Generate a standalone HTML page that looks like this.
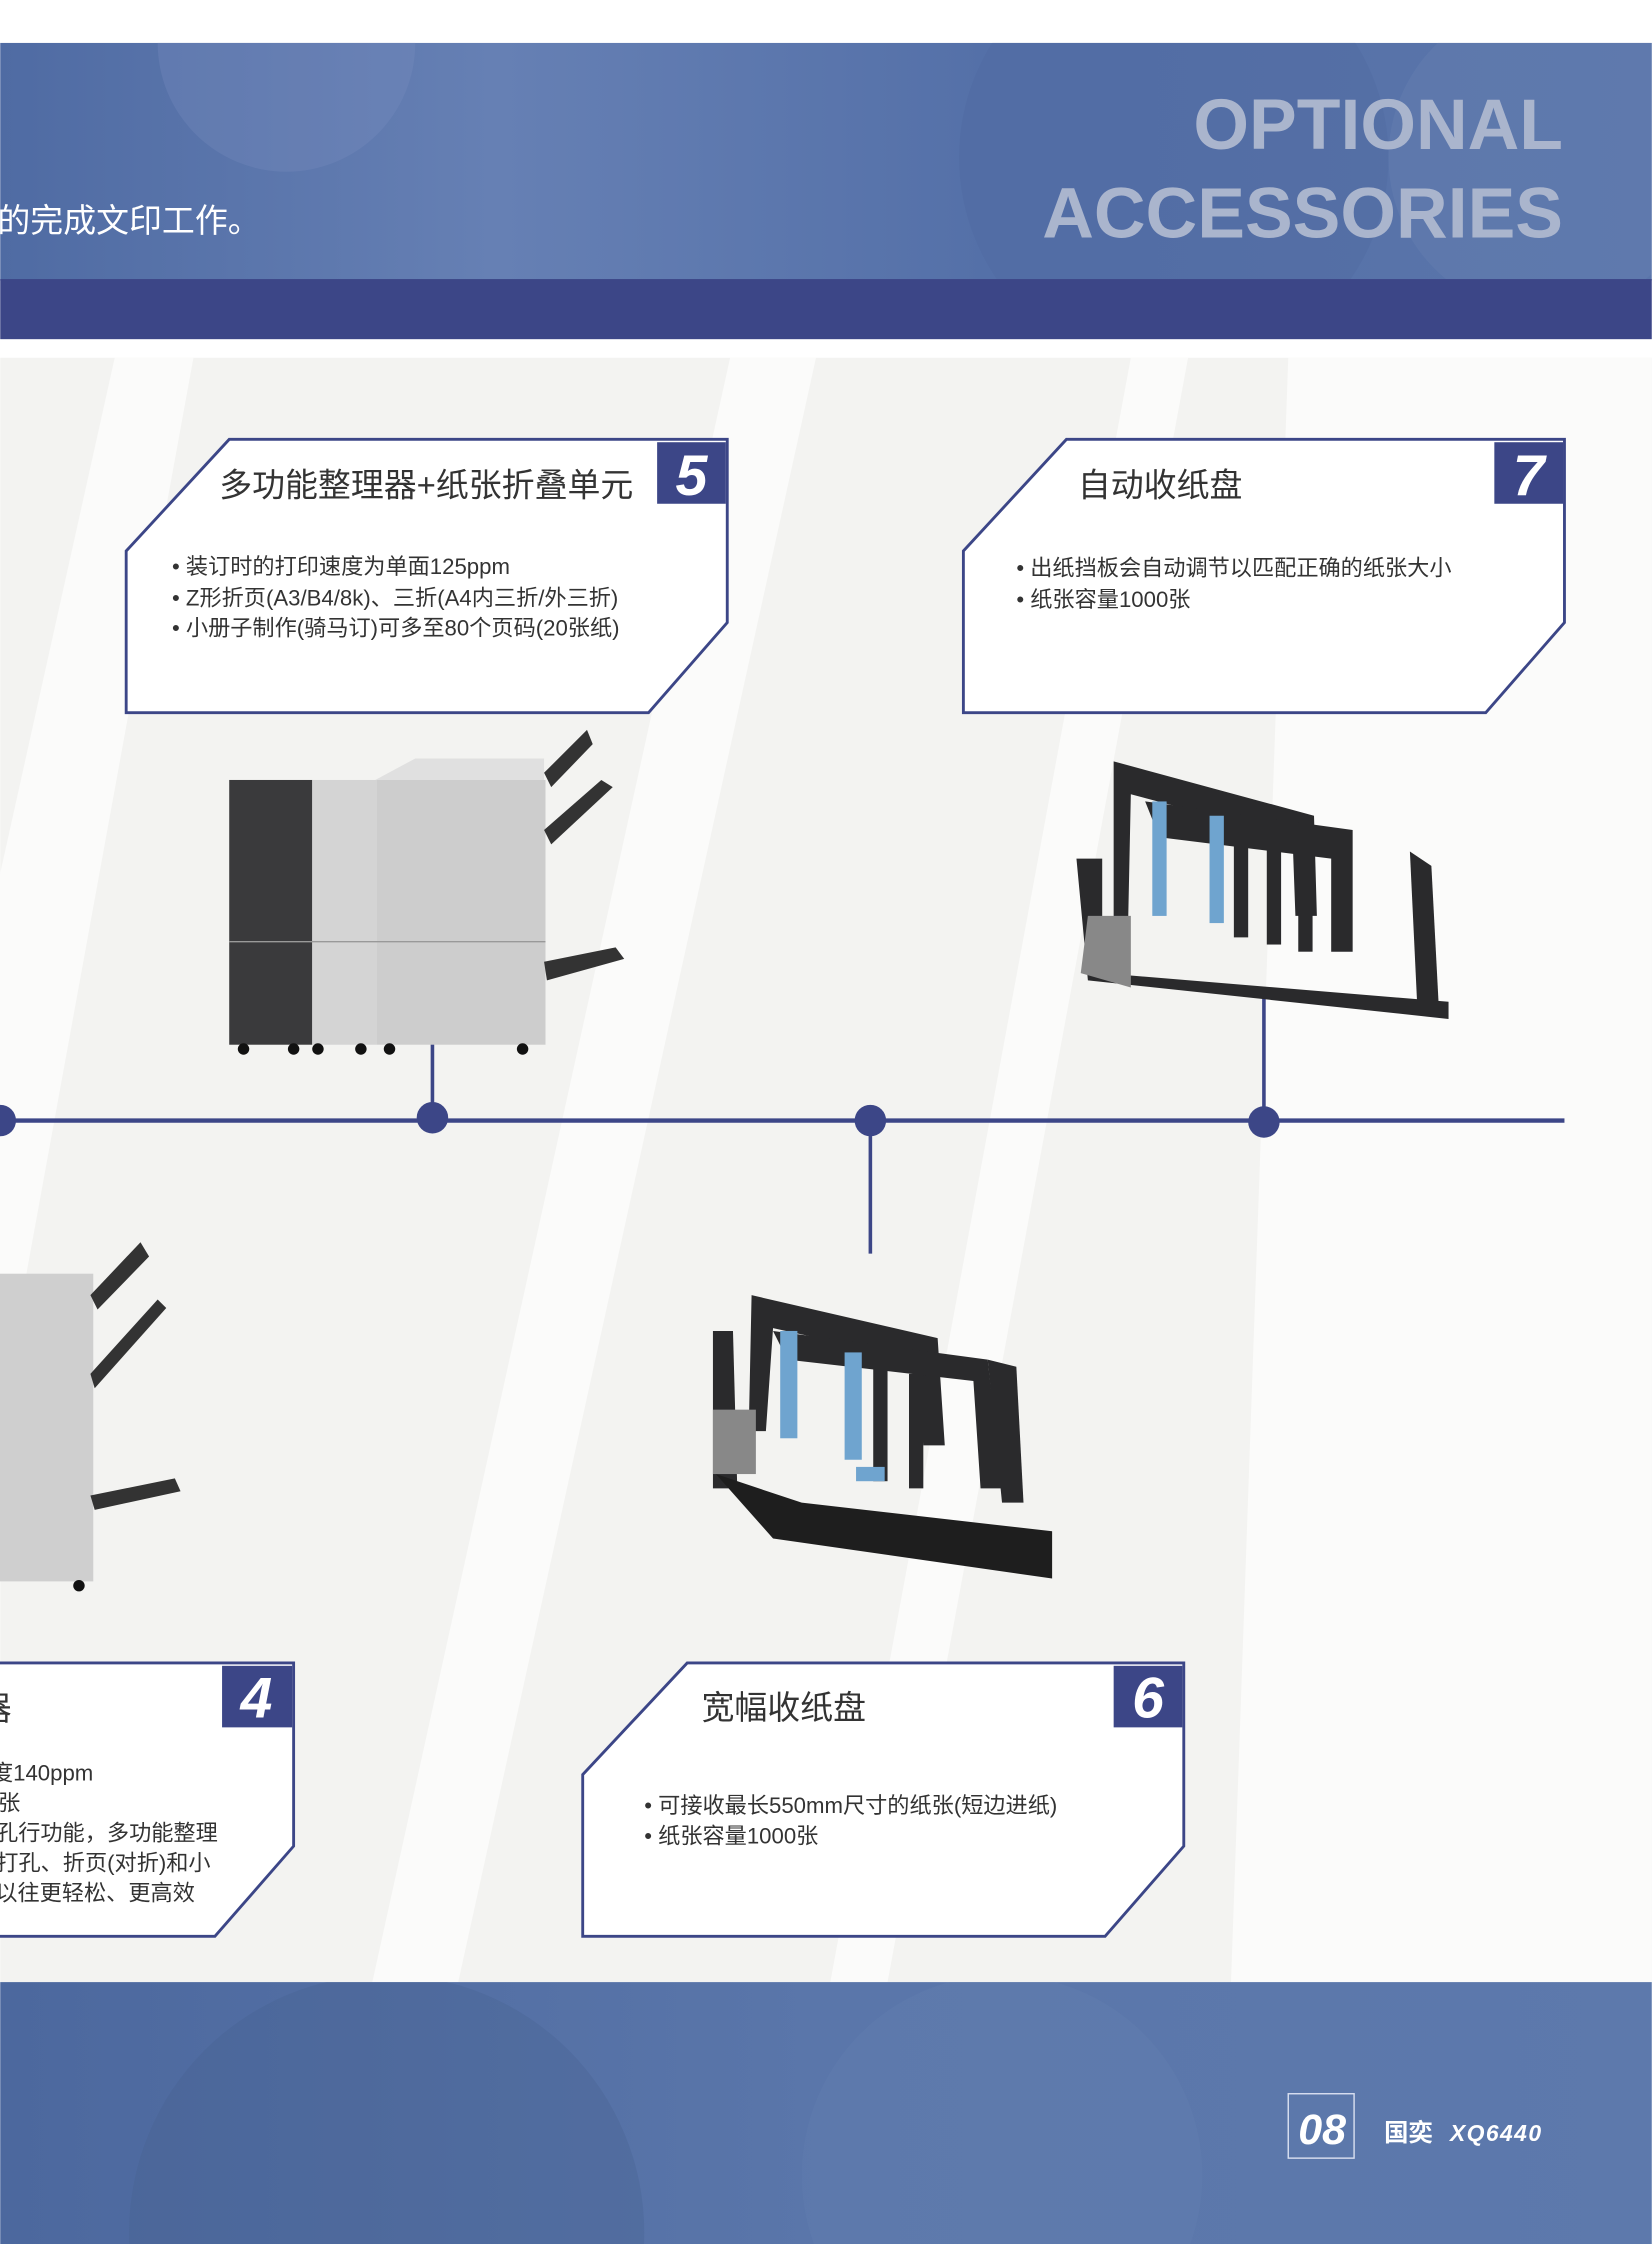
<!DOCTYPE html>
<html><head><meta charset="utf-8"><style>
html,body{margin:0;padding:0;background:#fff;overflow:hidden;width:1652px;height:2244px}
svg{display:block}
text{font-family:"Liberation Sans","Noto Sans CJK SC",sans-serif}
</style></head><body>
<svg width="1652" height="2244" viewBox="0 0 1154 1568" xmlns="http://www.w3.org/2000/svg">
<defs>
<linearGradient id="hd" x1="0" y1="0" x2="1" y2="0">
<stop offset="0" stop-color="#4f6ba3"/><stop offset="0.3" stop-color="#6680b4"/><stop offset="0.6" stop-color="#5470a8"/><stop offset="1" stop-color="#5a75aa"/></linearGradient>
<linearGradient id="ft" x1="0" y1="0" x2="1" y2="0">
<stop offset="0" stop-color="#4c689e"/><stop offset="0.5" stop-color="#5a76aa"/><stop offset="1" stop-color="#5d79ac"/></linearGradient>
<clipPath id="ch"><rect x="0" y="30" width="1154" height="165"/></clipPath>
<clipPath id="cf"><rect x="0" y="1385" width="1154" height="183"/></clipPath>
</defs>
<rect width="1154" height="1568" fill="#fff"/>
<!-- header -->
<rect x="0" y="30" width="1154" height="166" fill="url(#hd)"/>
<g clip-path="url(#ch)">
<circle cx="200" cy="30" r="90" fill="#7a90bf" opacity="0.3"/>
<circle cx="820" cy="110" r="150" fill="#4a639a" opacity="0.25"/>
<circle cx="1080" cy="110" r="110" fill="#7088b8" opacity="0.25"/>
</g>
<text x="1092" y="104" font-size="50" font-weight="bold" fill="#aab5cd" text-anchor="end">OPTIONAL</text>
<text x="1092" y="166" font-size="50" font-weight="bold" fill="#aab5cd" text-anchor="end">ACCESSORIES</text>
<text x="-2" y="162" font-size="23" fill="#fff">的完成文印工作。</text>
<rect x="0" y="195" width="1154" height="42" fill="#3c4687"/>
<!-- grey body -->
<rect x="0" y="250" width="1154" height="1135" fill="#f3f3f1"/>
<polygon points="80,250 135,250 -20,1100 -20,700" fill="#fbfbfa"/>
<polygon points="510,250 570,250 320,1385 260,1385" fill="#fbfbfa"/>
<polygon points="790,250 830,250 620,1385 580,1385" fill="#fbfbfa"/>
<polygon points="900,250 1154,250 1154,1385 860,1385" fill="#fbfbfa"/>
<!-- timeline -->
<line x1="0" y1="783" x2="1093" y2="783" stroke="#3c4687" stroke-width="3"/>
<line x1="302" y1="727" x2="302" y2="783" stroke="#3c4687" stroke-width="2.5"/>
<line x1="608" y1="783" x2="608" y2="876" stroke="#3c4687" stroke-width="2.5"/>
<line x1="883" y1="690" x2="883" y2="783" stroke="#3c4687" stroke-width="2.5"/>
<circle cx="0" cy="783" r="11" fill="#3c4687"/>
<circle cx="302" cy="781" r="11" fill="#3c4687"/>
<circle cx="608" cy="783" r="11" fill="#3c4687"/>
<circle cx="883" cy="784" r="11" fill="#3c4687"/>
<!-- box 5 -->
<polygon points="160,307 508,307 508,435 453,498 88,498 88,385" fill="#fff" stroke="#3c4687" stroke-width="2"/>
<rect x="459" y="309" width="48" height="43" fill="#3c4687"/>
<text x="483" y="346" font-size="40" font-weight="bold" font-style="italic" fill="#fff" text-anchor="middle">5</text>
<text x="153" y="347" font-size="23" fill="#333">多功能整理器+纸张折叠单元</text>
<g font-size="15.5" fill="#333"><text x="120" y="401">• 装订时的打印速度为单面125ppm</text><text x="120" y="423">• Z形折页(A3/B4/8k)、三折(A4内三折/外三折)</text><text x="120" y="444">• 小册子制作(骑马订)可多至80个页码(20张纸)</text></g>
<!-- box 7 -->
<polygon points="745,307 1093,307 1093,435 1038,498 673,498 673,385" fill="#fff" stroke="#3c4687" stroke-width="2"/>
<rect x="1044" y="309" width="48" height="43" fill="#3c4687"/>
<text x="1068" y="346" font-size="40" font-weight="bold" font-style="italic" fill="#fff" text-anchor="middle">7</text>
<text x="753" y="347" font-size="23" fill="#333">自动收纸盘</text>
<g font-size="15.5" fill="#333"><text x="710" y="402">• 出纸挡板会自动调节以匹配正确的纸张大小</text><text x="710" y="424">• 纸张容量1000张</text></g>
<!-- box 4 -->
<polygon points="-10,1162 205,1162 205,1290 150,1353 -10,1353" fill="#fff" stroke="#3c4687" stroke-width="2"/>
<rect x="155" y="1164" width="49" height="43" fill="#3c4687"/>
<text x="179" y="1200" font-size="40" font-weight="bold" font-style="italic" fill="#fff" text-anchor="middle">4</text>
<text x="8" y="1202" font-size="23" fill="#333" text-anchor="end">多功能整理器</text>
<g font-size="15.5" fill="#333" text-anchor="end"><text x="65" y="1244">• 装订时的打印速度140ppm</text><text x="14" y="1265">• 纸张容量3000张</text><text x="152" y="1286">• 具有打孔行功能，多功能整理</text><text x="147" y="1307">器，打孔、折页(对折)和小</text><text x="136" y="1328">册子制作比以往更轻松、更高效</text></g>
<!-- box 6 -->
<polygon points="480,1162 827,1162 827,1290 772,1353 407,1353 407,1240" fill="#fff" stroke="#3c4687" stroke-width="2"/>
<rect x="778" y="1164" width="48" height="43" fill="#3c4687"/>
<text x="802" y="1200" font-size="40" font-weight="bold" font-style="italic" fill="#fff" text-anchor="middle">6</text>
<text x="490" y="1201" font-size="23" fill="#333">宽幅收纸盘</text>
<g font-size="15.5" fill="#333"><text x="450" y="1267">• 可接收最长550mm尺寸的纸张(短边进纸)</text><text x="450" y="1288">• 纸张容量1000张</text></g>
<!-- machine 5 -->
<rect x="160" y="545" width="58" height="185" fill="#3a3a3c"/>
<rect x="218" y="545" width="45" height="185" fill="#d4d4d4"/>
<rect x="263" y="545" width="118" height="185" fill="#cdcdcd"/>
<polygon points="262,545 290,530 380,530 380,545" fill="#e0e0e0"/>
<line x1="160" y1="658" x2="381" y2="658" stroke="#999"/>
<polygon points="380,540 410,510 414,520 385,550" fill="#333"/>
<polygon points="380,580 420,545 428,550 385,590" fill="#333"/>
<polygon points="380,672 430,662 436,670 382,685" fill="#333"/>
<g fill="#111"><circle cx="170" cy="733" r="4"/><circle cx="205" cy="733" r="4"/><circle cx="222" cy="733" r="4"/><circle cx="252" cy="733" r="4"/><circle cx="272" cy="733" r="4"/><circle cx="365" cy="733" r="4"/></g>
<!-- machine 4 -->
<rect x="-5" y="890" width="70" height="215" fill="#cfcfcf"/>
<polygon points="63,905 98,868 104,878 68,915" fill="#333"/>
<polygon points="63,960 110,908 116,914 66,970" fill="#333"/>
<polygon points="63,1045 122,1033 126,1042 66,1055" fill="#333"/>
<circle cx="55" cy="1108" r="4" fill="#111"/>
<!-- tray 7 -->
<g fill="#2a2a2c">
<polygon points="778,532 918,570 920,640 905,640 903,585 790,555 788,650 778,650"/>
<polygon points="800,560 945,580 945,665 930,665 930,600 810,585"/>
<rect x="862" y="585" width="10" height="70"/><rect x="885" y="590" width="10" height="70"/><rect x="907" y="595" width="10" height="70"/>
<polygon points="752,600 770,600 770,680 1012,700 1012,712 760,685"/>
<polygon points="985,595 1000,605 1005,700 990,700"/>
</g>
<polygon points="760,640 790,640 790,690 755,680" fill="#888"/>
<g fill="#6fa4cf"><rect x="805" y="560" width="10" height="80"/><rect x="845" y="570" width="10" height="75"/></g>
<!-- tray 6 -->
<g fill="#2a2a2c">
<polygon points="525,905 655,935 660,1010 645,1010 640,950 540,928 535,1000 523,1000"/>
<polygon points="540,930 690,950 700,1040 685,1040 680,965 550,950"/>
<rect x="610" y="955" width="10" height="80"/><rect x="635" y="960" width="10" height="80"/>
<polygon points="690,950 710,955 715,1050 700,1050"/>
<polygon points="498,930 512,930 515,1040 498,1040"/>
</g>
<polygon points="500,1030 560,1050 735,1070 735,1103 540,1075" fill="#1e1e1e"/>
<g fill="#6fa4cf"><rect x="545" y="930" width="12" height="75"/><rect x="590" y="945" width="12" height="75"/><rect x="598" y="1025" width="20" height="10"/></g>
<rect x="498" y="985" width="30" height="45" fill="#888"/>
<!-- footer -->
<rect x="0" y="1385" width="1154" height="183" fill="url(#ft)"/>
<g clip-path="url(#cf)">
<circle cx="270" cy="1560" r="180" fill="#44608f" opacity="0.3"/>
<circle cx="700" cy="1520" r="140" fill="#6782b3" opacity="0.25"/>
</g>
<rect x="900" y="1463" width="46" height="45" fill="none" stroke="#d8dff0" stroke-width="1"/>
<text x="907" y="1498" font-size="30" font-weight="bold" font-style="italic" fill="#fff">08</text>
<text x="967" y="1496" font-size="17" font-weight="bold" fill="#fff">国奕</text>
<text x="1013" y="1496" font-size="16" font-weight="bold" font-style="italic" fill="#fff" letter-spacing="1">XQ6440</text>
</svg>
</body></html>
